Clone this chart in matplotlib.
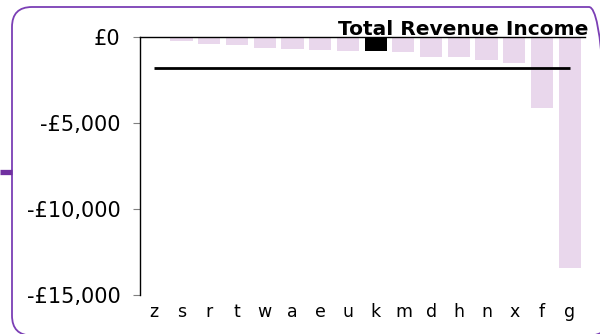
import matplotlib
matplotlib.use("Agg")
import matplotlib.pyplot as plt
from matplotlib.patches import FancyBboxPatch
from matplotlib.lines import Line2D
from matplotlib.ticker import FuncFormatter
import numpy as np

# Revenue income per account (all losses, in GBP)
accounts = ["z", "s", "r", "t", "w", "a", "e", "u", "k", "m", "d", "h", "n", "x", "f", "g"]
income = [-15, -210, -385, -445, -605, -695, -740, -785, -820, -860,
          -1120, -1160, -1320, -1500, -4110, -13420]
highlight = "k"

y_ticks = [0, -5000, -10000, -15000]

BAR_COLOR = "#E9D7EC"
FRAME_COLOR = "#7B3FB5"


def money(v, pos=None):
    if v == 0:
        return "£0"
    sign = "-" if v < 0 else ""
    return f"{sign}£{abs(v):,.0f}"


fig = plt.figure(figsize=(6, 3.34), dpi=100)
ax = fig.add_axes([0.2333, 0.1168, 0.7417, 0.7715])

colors = ["black" if a == highlight else BAR_COLOR for a in accounts]
ax.bar(accounts, income, width=0.8, color=colors, zorder=2)

# average line across all accounts
avg = np.mean(income)
ax.hlines(avg, 0, len(accounts) - 1, color="black", lw=2, zorder=3)

ax.set_xlim(-0.5, len(accounts) - 0.45)
ax.set_ylim(-15000, 0)
ax.set_yticks(y_ticks)
ax.yaxis.set_major_formatter(FuncFormatter(money))

ax.spines["right"].set_visible(False)
ax.spines["bottom"].set_visible(False)
ax.spines["top"].set_linewidth(1.0)
ax.spines["left"].set_linewidth(1.0)

ax.tick_params(axis="y", length=5, width=0.8, color="#808080", pad=9,
               labelsize=15, labelcolor="black")
ax.tick_params(axis="x", length=0, pad=6, labelsize=12.5, labelcolor="black")

fig.text(588 / 600, 0.895, "Total Revenue Income", ha="right", va="baseline",
         fontsize=14.5, fontweight="bold", color="black")

# rounded frame around the chart, right side runs past the image edge
frame = FancyBboxPatch((0.12, -0.015), 5.97, 3.285,
                       boxstyle="round,pad=0,rounding_size=0.2",
                       transform=fig.dpi_scale_trans, fill=False,
                       edgecolor=FRAME_COLOR, linewidth=1.3)
fig.add_artist(frame)
fig.add_artist(Line2D([0, 0.12], [1.62, 1.62], transform=fig.dpi_scale_trans,
                      color="#7030A0", linewidth=3.8, solid_capstyle="butt"))

fig.savefig("out.png", dpi=100)
